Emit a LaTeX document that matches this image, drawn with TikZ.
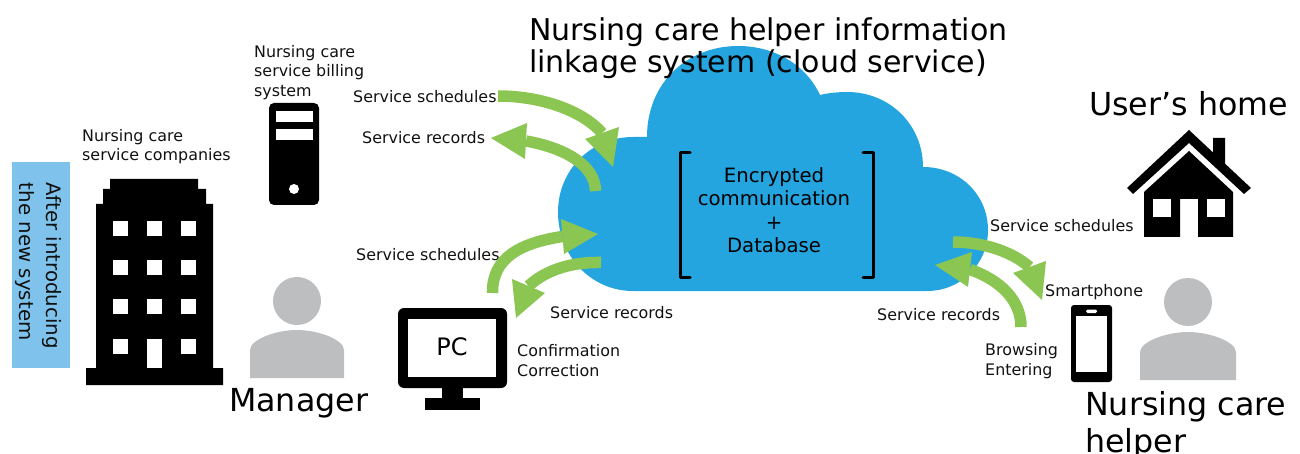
\documentclass[tikz,border=0pt]{standalone}
\usepackage{fontspec}
\setmainfont{DejaVu Sans}
\usetikzlibrary{arrows.meta}
\definecolor{cloudblue}{HTML}{25A5DF}
\definecolor{arrowgreen}{HTML}{8BC653}
\definecolor{persongray}{HTML}{BCBEC0}
\definecolor{tagblue}{HTML}{7FC3EC}
\definecolor{inktext}{HTML}{111111}
\tikzset{
  x=1pt,y=-1pt,
  smalltxt/.style={anchor=west,inner sep=0pt,align=left,text=inktext,font=\fontsize{15.9}{19.5}\selectfont},
  midtxt/.style={anchor=center,inner sep=0pt,align=center,text=black,font=\fontsize{19.7}{23.4}\selectfont},
  bigtxt/.style={anchor=west,inner sep=0pt,align=left,text=black,font=\fontsize{31.7}{37}\selectfont},
  flow/.style={draw=arrowgreen,line width=11.5pt},
  flowhead/.style={fill=arrowgreen,draw=none},
  blk/.style={fill=black,draw=none},
  wht/.style={fill=white,draw=none},
  gry/.style={fill=persongray,draw=none},
  brk/.style={draw=black,line width=3pt,line cap=round,line join=round},
}
\begin{document}
\begin{tikzpicture}
\useasboundingbox (0,0) rectangle (1300,454);
% cloud
\path[fill=cloudblue] (633,291)
 .. controls (591,291) and (558,256) .. (558,212)
 .. controls (558,170) and (591,137) .. (633,137)
 -- (647,137)
 .. controls (647,82) and (688,46) .. (738,46)
 .. controls (775,46) and (806,65) .. (820,95)
 .. controls (828,93) and (838,92) .. (847,92)
 .. controls (890,92) and (923,125) .. (923,167)
 .. controls (960,167) and (988,195) .. (988,230)
 .. controls (988,264) and (961,291) .. (927,291)
 -- cycle;
\draw[brk] (690,153) -- (680,153) -- (680,277) -- (690,277);
\draw[brk] (863,153) -- (873,153) -- (873,277) -- (863,277);
\node[midtxt] (cloudtext) at (774,210) {Encrypted\\communication\\+\\Database};
% title
\node[bigtxt,font=\fontsize{30}{32}\selectfont] (title) at (529,48.5) {Nursing care helper information\\linkage system (cloud service)};
% tag
\fill[tagblue] (12,162) rectangle (70,368);
\node[smalltxt,anchor=center,align=left,rotate=-90,font=\fontsize{19.8}{26.5}\selectfont] (tag) at (38.5,266) {After introducing\\the new system};
% building
\fill[blk] (110,179) -- (198,179) -- (198,189) -- (206,189) -- (206,204) -- (213,204) -- (213,368) -- (223,368) -- (223,385) -- (86,385) -- (86,368) -- (96,368) -- (96,204) -- (103,204) -- (103,189) -- (110,189) -- cycle;
\foreach \wx in {113,147,181}{\foreach \wy in {221,260,299}{\fill[wht] (\wx,\wy) rectangle ++(15,15);}}
\fill[wht] (113,339) rectangle ++(15,15);
\fill[wht] (181,339) rectangle ++(15,15);
\fill[wht] (147,339) rectangle (162,368);
\node[smalltxt] (companies) at (82,146.5) {Nursing care\\service companies};
% server
\fill[blk,rounded corners=5pt] (269,103) rectangle (319,205);
\fill[wht] (276,111) rectangle (313,122);
\fill[wht] (276,129) rectangle (313,140);
\fill[wht] (294,189) circle (5);
\node[smalltxt] (billing) at (254,72.5) {Nursing care\\service billing\\system};
% manager
\fill[gry] (297,301) circle (24);
\fill[gry] (250,378) -- (250,350) .. controls (250,340) and (275,330) .. (297,330) .. controls (319,330) and (344,340) .. (344,350) -- (344,378) -- cycle;
\node[bigtxt] (manager) at (229,403) {Manager};
% PC
\fill[blk,rounded corners=6pt] (398,308) rectangle (507,388);
\fill[wht] (408,319) rectangle (496,377);
\fill[blk] (442,385) rectangle (463,400);
\fill[blk] (425,398) rectangle (480,410);
\node[midtxt,font=\fontsize{24}{26}\selectfont] (pc) at (452,347) {PC};
\node[smalltxt] (confirm) at (517,360.5) {Confirmation\\Correction};
% house
\fill[blk] (1213,138) -- (1225,138) -- (1225,170) -- (1213,160) -- cycle;
\fill[blk] (1189,130) -- (1251,188) -- (1244,194) -- (1189,143) -- (1133,194) -- (1127,188) -- cycle;
\fill[blk] (1189,151) -- (1233,192) -- (1233,237) -- (1198,237) -- (1198,199) -- (1180,199) -- (1180,237) -- (1144,237) -- (1144,192) -- cycle;
\fill[wht] (1153,199) rectangle (1171,217);
\fill[wht] (1207,199) rectangle (1225,217);
\node[bigtxt] (home) at (1089,104) {User’s home};
% phone
\fill[blk,rounded corners=3pt] (1071,305) rectangle (1112,382);
\fill[wht] (1076,316) rectangle (1107,372);
\fill[wht,rounded corners=1.5pt] (1086,309.5) rectangle (1097,313);
\node[smalltxt] (smartphone) at (1045,292.5) {Smartphone};
\node[smalltxt] (browse) at (985,361) {Browsing\\Entering};
% helper
\fill[gry] (1188,302) circle (24);
\fill[gry] (1140,380) -- (1140,352) .. controls (1140,342) and (1166,332) .. (1188,332) .. controls (1210,332) and (1236,342) .. (1236,352) -- (1236,380) -- cycle;
\node[bigtxt] (helper) at (1085,425) {Nursing care\\helper};
% flow labels
\node[smalltxt] (l1) at (353,97) {Service schedules};
\node[smalltxt] (l2) at (362,138) {Service records};
\node[smalltxt] (l3) at (356,255) {Service schedules};
\node[smalltxt] (l4) at (550,313) {Service records};
\node[smalltxt] (l5) at (990,226) {Service schedules};
\node[smalltxt] (l6) at (877,315) {Service records};
% flows
\coordinate (a1s) at (498,96);    \coordinate (a1b) at (602,133);
\coordinate (a2s) at (595.5,191); \coordinate (a2b) at (526,141);
\coordinate (a3s) at (492.5,293); \coordinate (a3b) at (562.5,236.5);
\coordinate (a4s) at (601,262.5); \coordinate (a4b) at (528.5,286);
\coordinate (a5s) at (953,242);   \coordinate (a5b) at (1029.5,267);
\coordinate (a6s) at (1021,327);  \coordinate (a6b) at (970,269.5);
\draw[flow] (a1s) .. controls (540,96) and (582,110) .. (a1b);
\draw[flow] (a2s) .. controls (595,165) and (565,148) .. (a2b);
\draw[flow] (a3s) .. controls (492,258) and (520,243) .. (a3b);
\draw[flow] (a4s) .. controls (575,262) and (548,268) .. (a4b);
\draw[flow] (a5s) .. controls (980,242) and (1010,250) .. (a5b);
\draw[flow] (a6s) .. controls (1021,300) and (1000,280) .. (a6b);
\fill[flowhead] (613,167) -- (619,127) -- (585,139) -- cycle;
\fill[flowhead] (491,138) -- (527,123) -- (525,159) -- cycle;
\fill[flowhead] (598,234) -- (561,219) -- (564,254) -- cycle;
\fill[flowhead] (516,318) -- (512,279) -- (545,293) -- cycle;
\fill[flowhead] (1042,300) -- (1046,261) -- (1013,273) -- cycle;
\fill[flowhead] (935,265) -- (972,252) -- (968,287) -- cycle;
\end{tikzpicture}
\end{document}
